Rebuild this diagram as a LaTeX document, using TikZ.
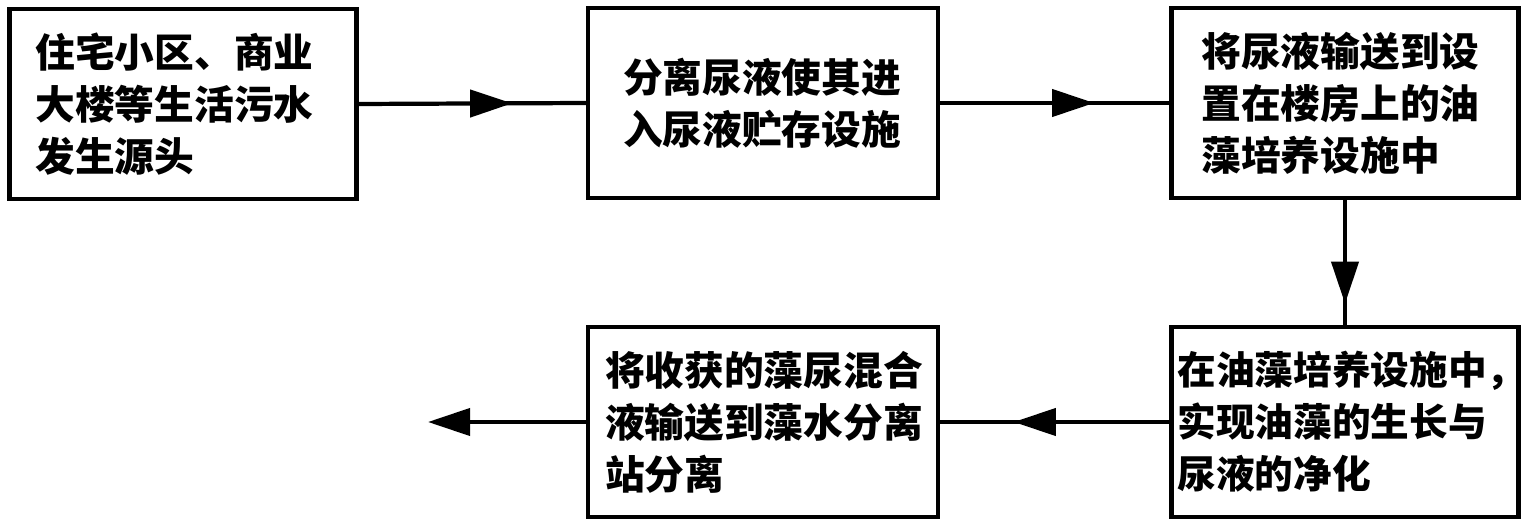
\documentclass[tikz,border=0pt]{standalone}
\usepackage{fontspec}
\usepackage{tikz}
\usetikzlibrary{positioning}
\usetikzlibrary{arrows.meta,decorations.markings}
\newfontfamily\cjk{Noto Sans CJK SC Black}

\begin{document}
\begin{tikzpicture}[line width=1.2pt,
  stepbox/.style={draw, minimum height=1.9cm, align=left, font=\cjk\fontsize{11.3}{14.8}\selectfont},
  midarrow/.style={decoration={markings, mark=at position #1 with {\arrow{Triangle[length=12pt,width=7.7pt]}}}, postaction={decorate}}]
\useasboundingbox (0,0) rectangle (15.28,-5.23);
% top row
\node[stepbox, inner xsep=.26cm, text width=2.95cm] (source) at (1.83,-1.04) {住宅小区、商业\\大楼等生活污水\\发生源头};
\node[stepbox, inner xsep=.35cm, text width=2.80cm] (store) at (7.63,-1.03) {分离尿液使其进\\入尿液贮存设施};
\node[stepbox, inner xsep=.30cm, text width=2.87cm] (pump) at (13.45,-1.03) {将尿液输送到设\\置在楼房上的油\\藻培养设施中};
% bottom row
\node[stepbox, inner xsep=.06cm, text width=3.35cm, font=\cjk\fontsize{11}{14.8}\selectfont] (grow) at (13.45,-4.22) {在油藻培养设施中\rlap{，}\\实现油藻的生长与\\尿液的净化};
\node[stepbox, inner xsep=.17cm, text width=3.16cm] (harvest) at (7.63,-4.22) {将收获的藻尿混合\\液输送到藻水分离\\站分离};
\coordinate (out) at (4.28,-4.22);
\draw[midarrow=.676] (source.east) -- (store.west);
\draw[midarrow=.672] (store.east) -- (pump.west);
\draw[midarrow=.83] (pump.south) -- (grow.north);
\draw[midarrow=.679] (grow.west) -- (harvest.east);
\draw[-{Triangle[length=12pt,width=7.7pt]}] (harvest.west) -- (out);
\end{tikzpicture}
\end{document}
